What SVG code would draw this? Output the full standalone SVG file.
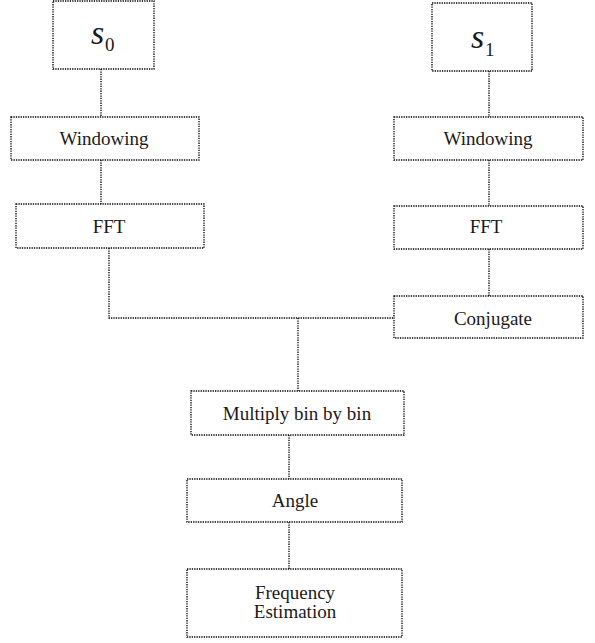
<svg xmlns="http://www.w3.org/2000/svg" width="595" height="643" viewBox="0 0 595 643">
<style>
.box{fill:#fff;stroke:#000;stroke-width:1.3;stroke-dasharray:1.3 1.1}
.ln{fill:none;stroke:#000;stroke-width:1.3;stroke-dasharray:1.3 1.1}
.t{font-family:"Liberation Serif","Times New Roman",serif;font-size:19px;fill:#1a1a1a;text-anchor:middle}
.v{font-family:"Liberation Serif","Times New Roman",serif;font-style:italic;font-size:34px;fill:#1a1a1a}
.sub{font-family:"Liberation Serif","Times New Roman",serif;font-size:19px;fill:#1a1a1a}
</style>
<rect width="595" height="643" fill="#fff"/>
<g id="connectors">
<path class="ln" d="M101,69V117"/>
<path class="ln" d="M101,160V204"/>
<path class="ln" d="M489,71V117"/>
<path class="ln" d="M489,160V206"/>
<path class="ln" d="M489,249V296"/>
<path class="ln" d="M109,248V318H394"/>
<path class="ln" d="M298,318V391"/>
<path class="ln" d="M289,435V479"/>
<path class="ln" d="M289,522V569"/>
</g>
<g id="s0"><rect class="box" x="53" y="1" width="101" height="68"/><text x="91" y="44" class="v">s</text><text x="105" y="51" class="sub">0</text></g>
<g id="s1"><rect class="box" x="432" y="3" width="100" height="68"/><text x="471" y="48" class="v">s</text><text x="485" y="56" class="sub">1</text></g>
<g id="windowing0"><rect class="box" x="11" y="117" width="188" height="43"/><text x="104" y="145" class="t">Windowing</text></g>
<g id="windowing1"><rect class="box" x="394" y="117" width="189" height="43"/><text x="488" y="145" class="t">Windowing</text></g>
<g id="fft0"><rect class="box" x="16" y="204" width="188" height="44"/><text x="109" y="233" class="t">FFT</text></g>
<g id="fft1"><rect class="box" x="394" y="206" width="189" height="43"/><text x="486" y="233" class="t">FFT</text></g>
<g id="conjugate"><rect class="box" x="394" y="296" width="189" height="42"/><text x="493" y="325" class="t">Conjugate</text></g>
<g id="multiply"><rect class="box" x="191" y="391" width="213" height="44"/><text x="297" y="420" class="t">Multiply bin by bin</text></g>
<g id="angle"><rect class="box" x="187" y="479" width="215" height="43"/><text x="295" y="507" class="t">Angle</text></g>
<g id="freq"><rect class="box" x="187" y="569" width="215" height="68"/><text x="295" y="599" class="t">Frequency</text><text x="295" y="618" class="t">Estimation</text></g>
</svg>
